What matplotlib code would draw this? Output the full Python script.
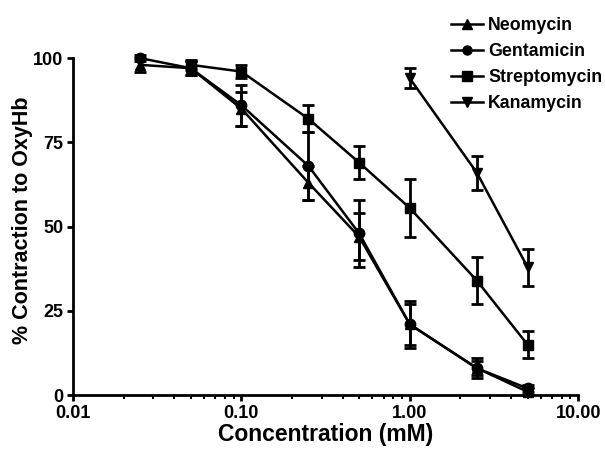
import matplotlib.pyplot as plt
from matplotlib.lines import Line2D
from matplotlib.ticker import FixedLocator, FixedFormatter, LogLocator, NullFormatter

plt.rcParams['font.family'] = ['Liberation Sans', 'DejaVu Sans']
plt.rcParams['font.weight'] = 'bold'

# concentrations (mM)
neo_x = [0.025, 0.05, 0.1, 0.25, 0.5, 1.0, 2.5, 5.0]
neo_y = [98, 97, 85, 63, 47, 21, 8, 1]
neo_err = [2, 2, 5, 5, 7, 6, 2, 1]

gen_x = [0.025, 0.05, 0.1, 0.25, 0.5, 1.0, 2.5, 5.0]
gen_y = [100, 97, 86, 68, 48, 21, 8, 2]
gen_err = [1, 2, 6, 10, 10, 7, 3, 1]

str_x = [0.05, 0.1, 0.25, 0.5, 1.0, 2.5, 5.0]
str_y = [98, 96, 82, 69, 55.5, 34, 15]
str_err = [1.5, 2, 4, 5, 8.5, 7, 4]

kan_x = [1.0, 2.5, 5.0]
kan_y = [94, 66, 38]
kan_err = [3, 5, 5.5]

fig = plt.figure(figsize=(6.05, 4.49), dpi=100)
ax = fig.add_axes([0.1207, 0.120, 0.835, 0.7506])

series = [
    (neo_x, neo_y, neo_err, '^', 'Neomycin'),
    (gen_x, gen_y, gen_err, 'o', 'Gentamicin'),
    (str_x, str_y, str_err, 's', 'Streptomycin'),
    (kan_x, kan_y, kan_err, 'v', 'Kanamycin'),
]
handles = []
for x, y, e, m, lab in series:
    ax.errorbar(x, y, yerr=e, marker=m, color='black', markersize=7.5,
                linewidth=1.8, elinewidth=2, capsize=4, capthick=2, clip_on=False)
    handles.append(Line2D([], [], marker=m, color='black', markersize=6.5,
                          linewidth=1.8, label=lab))

ax.set_xscale('log')
ax.set_xlim(0.01, 10)
ax.set_ylim(0, 100)
ax.xaxis.set_major_locator(FixedLocator([0.01, 0.1, 1, 10]))
ax.xaxis.set_major_formatter(FixedFormatter(['0.01', '0.10', '1.00', '10.00']))
ax.xaxis.set_minor_locator(LogLocator(base=10, subs=range(2, 10)))
ax.xaxis.set_minor_formatter(NullFormatter())
ax.set_yticks([0, 25, 50, 75, 100])

for s in ['top', 'right']:
    ax.spines[s].set_visible(False)
for s in ['left', 'bottom']:
    ax.spines[s].set_linewidth(2)
ax.tick_params(which='major', width=2, length=4, labelsize=13, pad=3)
ax.tick_params(which='minor', width=1.5, length=3)

ax.set_xlabel('Concentration (mM)', fontsize=16.5, fontweight='bold', labelpad=1)
ax.set_ylabel('% Contraction to OxyHb', fontsize=15.5, fontweight='bold')
ax.yaxis.set_label_coords(-0.08, 0.52)

leg = fig.legend(handles=handles, loc='upper left', bbox_to_anchor=(0.745, 0.962),
                 frameon=False, fontsize=12.8, handlelength=1.8, handletextpad=0.3,
                 labelspacing=0.5, borderaxespad=0, borderpad=0)
for t in leg.get_texts():
    t.set_fontweight('bold')

fig.savefig('out.png', dpi=100)
